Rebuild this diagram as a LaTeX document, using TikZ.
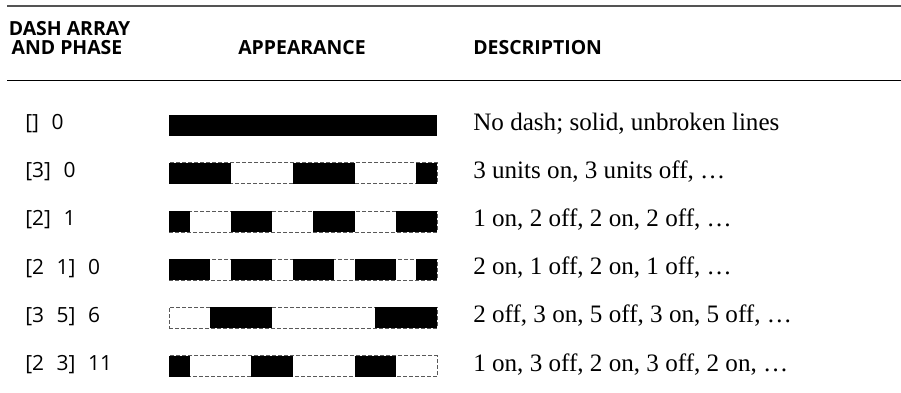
\documentclass[tikz,border=0pt]{standalone}
\usepackage{fontspec}
\setmainfont{Liberation Serif}
\setsansfont{Open Sans}
\usetikzlibrary{positioning}

\newdimen\dashunit
\dashunit=20.615bp

\begin{document}
\begin{tikzpicture}[x=1bp,y=-1bp,semithick]
	  \tikzstyle{head}=[font=\sffamily\bfseries\fontsize{19.5}{17}\selectfont,inner sep=0pt,anchor=base]
	  \tikzstyle{lab}=[font=\sffamily\fontsize{21}{24}\selectfont,inner sep=0pt,anchor=base west]
	  \tikzstyle{desc}=[font=\fontsize{25.2}{28}\selectfont,inner sep=0pt,anchor=base west]
	  \tikzstyle{frame}=[draw=black!65,line width=0.8bp,dash pattern=on 4bp off 2bp,
	                     minimum width=268bp,minimum height=21bp,inner sep=0pt,outer sep=0pt]
	  \tikzstyle{bar}=[line width=21bp,line cap=butt]

	  \useasboundingbox (0,0) rectangle (901,392);

	  % rules
	  \coordinate (topW) at (7,5.7);
	  \coordinate (topE) at (901,5.7);
	  \coordinate (midW) at (7,80.3);
	  \coordinate (midE) at (901,80.3);
	  \draw[draw=black!67,line width=1.8bp] (topW) -- (topE);
	  \draw[line width=1.2bp] (midW) -- (midE);

	  % header
	  \node[head] (hArray) at (69.5,35.8) {DASH ARRAY};
	  \node[head] (hPhase) at (67,54.6) {AND PHASE};
	  \node[head] (hLook)  at (302,54.6)  {APPEARANCE};
	  \node[head,anchor=base west] (hDesc) at (473,54.6) {DESCRIPTION};

	  % [] 0
	  \node[lab]   (l0) at (25,129.5)  {[]\hspace{.6em}0};
	  \node[frame,draw=none] (b0) at (303,125) {};
	  \draw[bar] (b0.west) -- (b0.east);
	  \node[desc]  (d0) at (473,130)   {No dash; solid, unbroken lines};

	  % [3] 0
	  \node[lab]   (l1) at (25,177.7)  {[3]\hspace{.6em}0};
	  \node[frame] (b1) at (303,173.2) {};
	  \draw[bar,dash pattern=on 3\dashunit off 3\dashunit] (b1.west) -- (b1.east);
	  \node[desc]  (d1) at (473,178.2) {3 units on, 3 units off, …};

	  % [2] 1
	  \node[lab]   (l2) at (25,225.9)  {[2]\hspace{.6em}1};
	  \node[frame] (b2) at (303,221.4) {};
	  \draw[bar,dash pattern=on 2\dashunit off 2\dashunit,dash phase=1\dashunit] (b2.west) -- (b2.east);
	  \node[desc]  (d2) at (473,226.4) {1 on, 2 off, 2 on, 2 off, …};

	  % [2 1] 0
	  \node[lab]   (l3) at (25,274.1)  {[2\hspace{.6em}1]\hspace{.6em}0};
	  \node[frame] (b3) at (303,269.6) {};
	  \draw[bar,dash pattern=on 2\dashunit off 1\dashunit] (b3.west) -- (b3.east);
	  \node[desc]  (d3) at (473,274.6) {2 on, 1 off, 2 on, 1 off, …};

	  % [3 5] 6
	  \node[lab]   (l4) at (25,322.3)  {[3\hspace{.6em}5]\hspace{.6em}6};
	  \node[frame] (b4) at (303,317.8) {};
	  \draw[bar,dash pattern=on 3\dashunit off 5\dashunit,dash phase=6\dashunit] (b4.west) -- (b4.east);
	  \node[desc]  (d4) at (473,322.8) {2 off, 3 on, 5 off, 3 on, 5 off, …};

	  % [2 3] 11
	  \node[lab]   (l5) at (25,370.5)  {[2\hspace{.6em}3]\hspace{.6em}11};
	  \node[frame] (b5) at (303,366)   {};
	  \draw[bar,dash pattern=on 2\dashunit off 3\dashunit,dash phase=11\dashunit] (b5.west) -- (b5.east);
	  \node[desc]  (d5) at (473,371)   {1 on, 3 off, 2 on, 3 off, 2 on, …};
\end{tikzpicture}
\end{document}
